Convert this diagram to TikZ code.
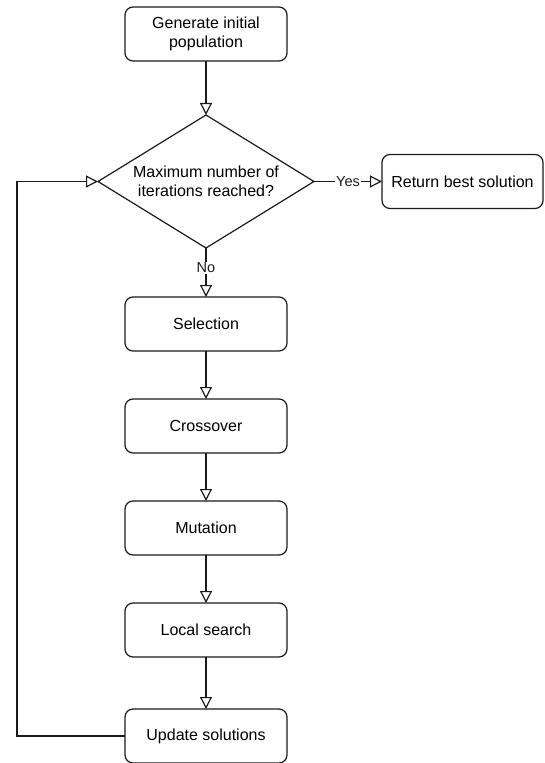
\documentclass[tikz,border=0pt]{standalone}
\usepackage{fontspec}
\setmainfont{Liberation Sans}
\usepackage{tikz}
\usetikzlibrary{shapes.geometric, arrows.meta, positioning}
\definecolor{edge}{HTML}{1A1A1A}

\begin{document}
\begin{tikzpicture}[
    x=1pt, y=-1pt,
    box/.style={rectangle, draw=edge, line width=1.2pt, outer sep=0pt, rounded corners=8pt, minimum width=162pt, minimum height=54pt, align=center, font=\fontsize{16}{19}\selectfont},
    decision/.style={diamond, draw=edge, line width=1.2pt, outer sep=0pt, aspect=1.62, inner sep=0pt, minimum width=216pt, minimum height=133pt, align=center, font=\fontsize{16}{19}\selectfont},
    elabel/.style={fill=white, inner sep=1pt, font=\fontsize{14.5}{17}\selectfont},
    arrow/.style={-{Triangle[open, length=12pt, width=12pt]}, line width=1.2pt, color=edge}
]
\useasboundingbox (0,0) rectangle (544,763);
\node[box] (init) at (206,34) {Generate initial\\population};
\node[decision, below=54pt of init] (cond) {Maximum number of\\iterations reached?};
\node[box, right=68pt of cond, minimum width=161pt] (best) {Return best solution};
\node[box, below=49pt of cond] (select) {Selection};
\node[box, below=48pt of select] (cross) {Crossover};
\node[box, below=48pt of cross] (mutate) {Mutation};
\node[box, below=48pt of mutate] (local) {Local search};
\node[box, below=52pt of local] (update) {Update solutions};
\coordinate (loopx) at (17,0);
\draw[arrow] (init) -- (cond);
\draw[arrow] (cond) -- node[elabel] {Yes} (best);
\draw[arrow] (cond) -- node[elabel, pos=0.4] {No} (select);
\draw[arrow] (select) -- (cross);
\draw[arrow] (cross) -- (mutate);
\draw[arrow] (mutate) -- (local);
\draw[arrow] (local) -- (update);
\draw[arrow] (update.west) -- (update.west -| loopx) |- (cond.west);
\end{tikzpicture}
\end{document}
